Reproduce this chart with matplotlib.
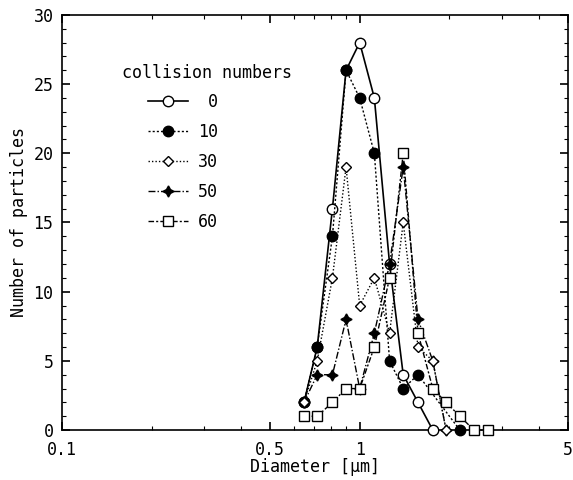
import matplotlib
matplotlib.use("Agg")
import matplotlib.pyplot as plt
from matplotlib.ticker import FixedLocator, NullFormatter, MultipleLocator

# particle diameter bins [um]
diam = [0.65, 0.72, 0.81, 0.90, 1.0, 1.12, 1.26, 1.40, 1.57, 1.76, 1.95, 2.17, 2.42, 2.70]

# number of particles per bin for each collision count
n0 = [2, 6, 16, 26, 28, 24, 12, 4, 2, 0]
n10 = [2, 6, 14, 26, 24, 20, 5, 3, 4, 0]
d10 = diam[:9] + [diam[11]]
n30 = [2, 5, 11, 19, 9, 11, 7, 15, 6, 5, 0]
n50 = [2, 4, 4, 8, 3, 7, 12, 19, 8, 5, 0]
n60 = [1, 1, 2, 3, 3, 6, 11, 20, 7, 3, 2, 1, 0, 0]

plt.rcParams['font.family'] = ['DejaVu Sans Mono', 'Noto Sans CJK JP']

fig = plt.figure(figsize=(5.73, 4.8), dpi=100)
ax = fig.add_axes([0.108, 0.104, 0.883, 0.865])

common = dict(color='black', clip_on=False)
ax.plot(diam[:len(n0)], n0, lw=1.2, ls='-', marker='o',
        ms=7.5, mfc='white', mec='black', label=' 0', zorder=3, **common)
ax.plot(d10, n10, lw=1.0, ls=(0, (1.5, 1.5)), marker='o',
        ms=7.5, mfc='black', mec='black', label='10', zorder=5, **common)
ax.plot(diam[:len(n30)], n30, lw=1.0, ls=(0, (1, 1.5)), marker='D',
        ms=5.5, mfc='white', mec='black', label='30', zorder=6, **common)
ax.plot(diam[:len(n50)], n50, lw=1.0, ls=(0, (5, 1.5, 1, 1.5)),
        marker=(4, 1, 0), ms=8, mfc='black', mec='black', label='50', zorder=4, **common)
ax.plot(diam[:len(n60)], n60, lw=1.0, ls=(0, (4, 1.5, 1.5, 1.5)),
        marker='s', ms=7.5, mfc='white', mec='black', label='60', zorder=7, **common)

ax.set_xscale('log')
ax.set_xlim(0.1, 5)
ax.set_ylim(0, 30)
ax.xaxis.set_major_locator(FixedLocator([0.1, 0.5, 1, 5]))
ax.xaxis.set_minor_locator(FixedLocator([0.2, 0.3, 0.4, 0.6, 0.7, 0.8, 0.9, 2, 3, 4]))
ax.xaxis.set_minor_formatter(NullFormatter())
ax.set_xticklabels(['0.1', '0.5', '1', '5'])
ax.yaxis.set_major_locator(MultipleLocator(5))
ax.yaxis.set_minor_locator(MultipleLocator(1))

ax.tick_params(which='both', direction='in', top=True, right=True, labelsize=12)
ax.tick_params(which='major', length=6, width=1.2)
ax.tick_params(which='minor', length=3, width=0.8)
ax.tick_params(axis='x', which='major', pad=8)
ax.tick_params(axis='y', which='major', pad=6)
for s in ax.spines.values():
    s.set_linewidth(1.2)

ax.set_xlabel('Diameter [μm]', fontsize=12, labelpad=-1)
ax.set_ylabel('Number of particles', fontsize=12, labelpad=4)

# legend title sits left of the indented entries
ax.text(0.1186, 0.860, 'collision numbers', transform=ax.transAxes,
        fontsize=12, ha='left', va='center')
ax.legend(frameon=False, loc='upper left', bbox_to_anchor=(0.170, 0.812),
          borderpad=0, borderaxespad=0, handlelength=2.4, fontsize=12,
          labelspacing=0.72, handletextpad=0.6)

fig.savefig('out.png', dpi=100)
